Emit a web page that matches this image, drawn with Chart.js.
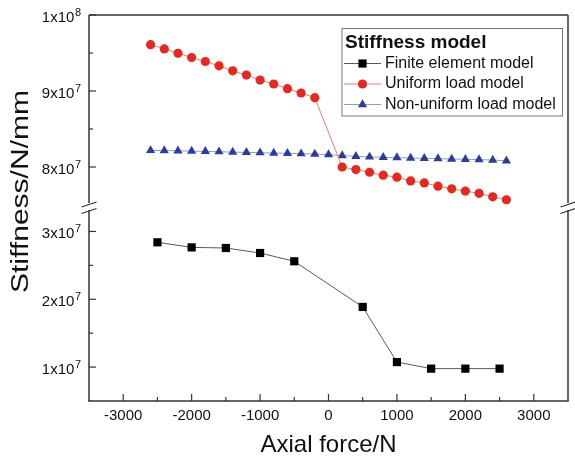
<!DOCTYPE html>
<html>
<head>
<meta charset="utf-8">
<script src="https://cdn.jsdelivr.net/npm/chart.js@4.4.0/dist/chart.umd.min.js"></script>
<style>
  html, body { margin: 0; padding: 0; background: #fff; }
  #wrap { width: 575px; height: 457px; }
</style>
</head>
<body>
<div id="wrap"><canvas id="c" width="575" height="457"></canvas></div>
<script>
const FONT = "'Liberation Sans', Arial, sans-serif";

// ── data ───────────────────────────────────────────────────────────────────
const FE_FORCE = [-2500, -2000, -1500, -1000, -500, 500, 1000, 1500, 2000, 2500];
const FE_STIFF = [2.84e7, 2.765e7, 2.756e7, 2.682e7, 2.56e7, 1.887e7, 1.074e7, 0.977e7, 0.977e7, 0.977e7];

const UNI_FORCE = [-2600, -2400, -2200, -2000, -1800, -1600, -1400, -1200, -1000, -800, -600, -400, -200,
                   200, 400, 600, 800, 1000, 1200, 1400, 1600, 1800, 2000, 2200, 2400, 2600];
const UNI_STIFF = [9.61e7, 9.553e7, 9.497e7, 9.44e7, 9.388e7, 9.331e7, 9.265e7, 9.209e7, 9.144e7, 9.092e7, 9.03e7, 8.974e7, 8.912e7,
                   8.0e7, 7.966e7, 7.931e7, 7.892e7, 7.866e7, 7.817e7, 7.791e7, 7.748e7, 7.713e7, 7.683e7, 7.653e7, 7.608e7, 7.569e7];

const NONUNI_FORCE = [-2600, -2400, -2200, -2000, -1800, -1600, -1400, -1200, -1000, -800, -600, -400, -200, 0,
                      200, 400, 600, 800, 1000, 1200, 1400, 1600, 1800, 2000, 2200, 2400, 2600];
const NONUNI_STIFF = [8.218e7, 8.216e7, 8.213e7, 8.209e7, 8.205e7, 8.201e7, 8.196e7, 8.192e7, 8.188e7, 8.184e7, 8.18e7, 8.175e7, 8.17e7, 8.163e7,
                      8.15e7, 8.14e7, 8.132e7, 8.127e7, 8.123e7, 8.118e7, 8.114e7, 8.11e7, 8.105e7, 8.101e7, 8.097e7, 8.092e7, 8.08e7];

const X_TICKS = [-3000, -2000, -1000, 0, 1000, 2000, 3000];
const X_MINOR = [-2500, -1500, -500, 500, 1500, 2500];

// y tick labels: mantissa part + exponent
const Y_HIGH_TICKS  = [8e7, 9e7, 1e8];
const Y_HIGH_LABELS = ['8x10', '9x10', '1x10'];
const Y_HIGH_EXP    = ['7', '7', '8'];
const Y_HIGH_MINOR  = [8.5e7, 9.5e7];

const Y_LOW_TICKS  = [1e7, 2e7, 3e7];
const Y_LOW_LABELS = ['1x10', '2x10', '3x10'];
const Y_LOW_EXP    = ['7', '7', '7'];
const Y_LOW_MINOR  = [1.5e7, 2.5e7];

const Y_TITLE = 'Stiffness/N/mm';
const LEGEND_TITLE = 'Stiffness model';

const pts = (xs, ys) => xs.map((x, i) => ({ x, y: ys[i] }));
const fixTicks = vals => s => { s.ticks = vals.map(v => ({ value: v })); };

// ── plugins ────────────────────────────────────────────────────────────────

// frame with axis break + inward tick marks
const framePlugin = {
  id: 'frame',
  afterDatasetsDraw(chart) {
    const { ctx, chartArea: a, scales } = chart;
    const brk = scales.yHigh.bottom;
    const line = (x1, y1, x2, y2) => { ctx.beginPath(); ctx.moveTo(x1, y1); ctx.lineTo(x2, y2); ctx.stroke(); };
    ctx.save();
    ctx.strokeStyle = '#333';
    ctx.lineWidth = 1.5;
    line(a.left, a.top, a.right, a.top);
    line(a.left - 0.75, a.bottom, a.right + 0.75, a.bottom);
    [a.left, a.right].forEach(x => {
      line(x, a.top, x, brk - 2);
      line(x, brk + 5, x, a.bottom);
      ctx.lineWidth = 1.2;
      line(x - 7.5, brk + 2, x + 7.5, brk - 3);
      line(x - 7.5, brk + 8.5, x + 7.5, brk + 3.5);
      ctx.lineWidth = 1.5;
    });

    ctx.lineWidth = 1.2;
    const xs = scales.x;
    X_TICKS.forEach(v => { const p = xs.getPixelForValue(v); line(p, a.bottom, p, a.bottom - 7); });
    X_MINOR.forEach(v => { const p = xs.getPixelForValue(v); line(p, a.bottom, p, a.bottom - 4); });
    [[scales.yHigh, Y_HIGH_TICKS, Y_HIGH_MINOR], [scales.yLow, Y_LOW_TICKS, Y_LOW_MINOR]].forEach(([s, maj, min]) => {
      maj.forEach(v => { const p = s.getPixelForValue(v); line(a.left, p, a.left + 7, p); });
      min.forEach(v => { const p = s.getPixelForValue(v); line(a.left, p, a.left + 4, p); });
    });
    ctx.restore();
  }
};

// y tick labels with a raised exponent (a x 10^n)
const yLabelPlugin = {
  id: 'yLabels',
  afterDraw(chart) {
    const { ctx, chartArea: a, scales } = chart;
    const right = a.left - 8;
    ctx.save();
    ctx.fillStyle = '#111';
    ctx.textAlign = 'right';
    ctx.textBaseline = 'alphabetic';
    [[scales.yHigh, Y_HIGH_LABELS, Y_HIGH_EXP], [scales.yLow, Y_LOW_LABELS, Y_LOW_EXP]].forEach(([s, labels, exps]) => {
      s.ticks.forEach((t, i) => {
        const y = s.getPixelForValue(t.value);
        const base = y + 6.5;
        ctx.font = '11px ' + FONT;
        const ew = ctx.measureText(exps[i]).width;
        ctx.fillText(exps[i], right, base - 6);
        ctx.font = '15px ' + FONT;
        ctx.fillText(labels[i], right - ew - 0.5, base);
      });
    });
    ctx.restore();
  }
};

// rotated y title, stretched along its length like the original
const yTitlePlugin = {
  id: 'yTitle',
  afterDraw(chart) {
    const ctx = chart.ctx;
    ctx.save();
    ctx.font = '23px ' + FONT;
    const w = ctx.measureText(Y_TITLE).width;
    ctx.translate(22, 191.5);
    ctx.rotate(-Math.PI / 2);
    ctx.scale(203 / w, 1);
    ctx.fillStyle = '#111';
    ctx.textAlign = 'center';
    ctx.textBaseline = 'middle';
    ctx.fillText(Y_TITLE, 0, 0);
    ctx.restore();
  }
};

// boxed legend with title, line + marker samples
const legendPlugin = {
  id: 'boxLegend',
  afterDraw(chart) {
    const ctx = chart.ctx;
    const box = { l: 342, t: 28.5, r: 562.5, b: 116 };
    ctx.save();
    ctx.fillStyle = '#fff';
    ctx.fillRect(box.l, box.t, box.r - box.l, box.b - box.t);
    ctx.strokeStyle = '#777';
    ctx.lineWidth = 1;
    ctx.strokeRect(box.l, box.t, box.r - box.l, box.b - box.t);

    ctx.fillStyle = '#111';
    ctx.textBaseline = 'middle';
    ctx.font = 'bold 19px ' + FONT;
    ctx.fillText(LEGEND_TITLE, 345, 43);

    ctx.font = '16px ' + FONT;
    chart.data.datasets.forEach((ds, i) => {
      const y = 63.5 + i * 20.5;
      ctx.strokeStyle = ds.borderColor;
      ctx.lineWidth = ds.borderWidth;
      ctx.beginPath(); ctx.moveTo(344, y); ctx.lineTo(381, y); ctx.stroke();
      ctx.fillStyle = ds.pointBackgroundColor;
      ctx.strokeStyle = ds.pointBorderColor;
      Chart.helpers.drawPoint(ctx, { pointStyle: ds.pointStyle, radius: ds.pointRadius, rotation: 0, borderWidth: 0 }, 362.5, y);
      ctx.fillStyle = '#111';
      ctx.fillText(ds.label, 385, y);
    });
    ctx.restore();
  }
};

// ── chart ──────────────────────────────────────────────────────────────────

const tickFont = { family: FONT, size: 15 };

new Chart(document.getElementById('c'), {
  type: 'line',
  data: {
    datasets: [
      {
        label: 'Finite element model',
        data: pts(FE_FORCE, FE_STIFF),
        yAxisID: 'yLow',
        borderColor: '#5a5a5a', borderWidth: 1,
        pointStyle: 'rect', pointRadius: 5.8, pointBorderWidth: 0,
        pointBackgroundColor: '#000', pointBorderColor: '#000',
      },
      {
        label: 'Uniform load model',
        data: pts(UNI_FORCE, UNI_STIFF),
        yAxisID: 'yHigh',
        borderColor: '#f07a72', borderWidth: 1,
        pointStyle: 'circle', pointRadius: 4.6, pointBorderWidth: 0,
        pointBackgroundColor: '#e8271e', pointBorderColor: '#e8271e',
      },
      {
        label: 'Non-uniform load model',
        data: pts(NONUNI_FORCE, NONUNI_STIFF),
        yAxisID: 'yHigh',
        borderColor: '#8a9ad8', borderWidth: 1,
        pointStyle: 'triangle', pointRadius: 5.3, pointBorderWidth: 0,
        pointBackgroundColor: '#2a3d9e', pointBorderColor: '#2a3d9e',
      },
    ],
  },
  options: {
    responsive: false,
    animation: false,
    events: [],
    layout: { padding: { left: 0, top: 15, right: 7, bottom: 0 } },
    plugins: { legend: { display: false }, tooltip: { enabled: false } },
    scales: {
      x: {
        type: 'linear', position: 'bottom', min: -3500, max: 3500,
        afterBuildTicks: fixTicks(X_TICKS),
        afterFit: s => { s.height = 56; },
        ticks: { callback: v => String(v), font: tickFont, color: '#111', padding: 6, maxRotation: 0, autoSkip: false },
        grid: { display: false, drawTicks: false },
        border: { display: false },
        title: { display: true, text: 'Axial force/N', color: '#111',
                 font: { family: FONT, size: 24, lineHeight: 1 }, padding: { top: 0, bottom: 0 } },
      },
      yLow: {
        type: 'linear', position: 'left', stack: 'y', stackWeight: 196,
        min: 0.5e7, max: 3.39e7,
        afterBuildTicks: fixTicks(Y_LOW_TICKS),
        afterFit: s => { s.width = 89; },
        ticks: { display: false },
        grid: { display: false, drawTicks: false },
        border: { display: false },
      },
      yHigh: {
        type: 'linear', position: 'left', stack: 'y', stackWeight: 190,
        min: 7.5e7, max: 1e8,
        afterBuildTicks: fixTicks(Y_HIGH_TICKS),
        afterFit: s => { s.width = 89; },
        ticks: { display: false },
        grid: { display: false, drawTicks: false },
        border: { display: false },
      },
    },
  },
  plugins: [framePlugin, yLabelPlugin, yTitlePlugin, legendPlugin],
});
</script>
</body>
</html>
